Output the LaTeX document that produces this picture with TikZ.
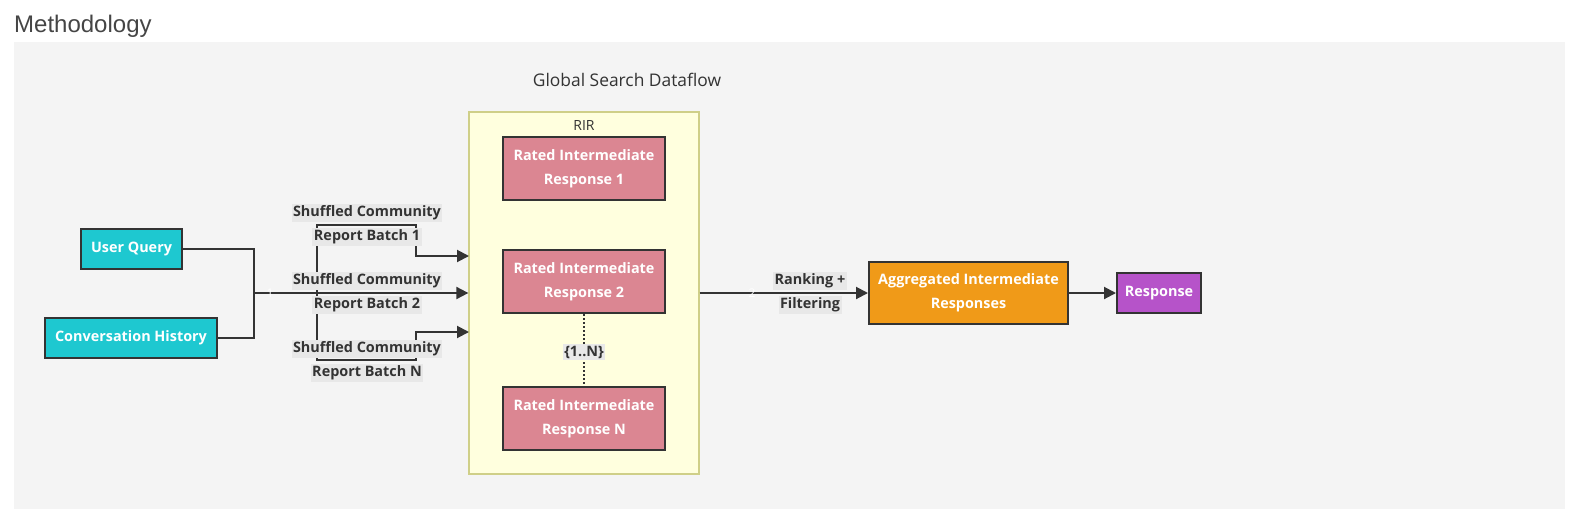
\documentclass[tikz,border=0pt]{standalone}
\usepackage{fontspec}
\setmainfont{Open Sans}
\newfontfamily\titlefont{Liberation Sans}
\usetikzlibrary{arrows.meta}
\definecolor{panel}{HTML}{F4F4F4}
\definecolor{teal}{HTML}{1EC8D0}
\definecolor{rose}{HTML}{DB8692}
\definecolor{orng}{HTML}{F09A18}
\definecolor{purp}{HTML}{B653C9}
\definecolor{bord}{HTML}{333333}
\definecolor{clfill}{HTML}{FFFFDE}
\definecolor{cldraw}{HTML}{CFCF88}
\definecolor{lblbg}{HTML}{E8E8E8}
\definecolor{txt}{HTML}{333333}
\tikzset{
  box/.style={draw=bord, line width=2pt, text=white, align=center, inner sep=0pt,
    font=\fontsize{14.4}{24}\selectfont\bfseries},
  conn/.style={draw=bord, line width=2pt},
  arr/.style={conn, -{Triangle[length=12pt,width=12pt]}},
  lbl/.style={fill=lblbg, text=txt, inner sep=1.5pt, font=\fontsize{14.4}{16}\selectfont\bfseries},
  num/.style={text=white, font=\fontsize{12}{14}\selectfont, inner sep=0pt}
}
\begin{document}
\begin{tikzpicture}[x=1pt,y=-1pt]
\useasboundingbox (0,0) rectangle (1569,517);
\fill[white] (0,0) rectangle (1569,517);
\fill[panel] (14,42) rectangle (1565,509);
\node[anchor=base west, inner sep=0pt, text=black!73, font=\titlefont\fontsize{24}{26}\selectfont] (title) at (14,32) {Methodology};
\node[anchor=base, inner sep=0pt, text=txt, font=\fontsize{17.4}{20}\selectfont] (gsd) at (627,86) {Global Search Dataflow};

% cluster
\node[draw=cldraw, fill=clfill, line width=1.3pt, minimum width=230, minimum height=362, inner sep=0pt] (rir) at (584,293) {};
\node[anchor=base, inner sep=0pt, text=txt, font=\fontsize{14}{16}\selectfont] (rirl) at (584,130) {RIR};

% nodes
\node[box, fill=teal, minimum width=101, minimum height=40] (uq) at (131.5,249) {User Query};
\node[box, fill=teal, minimum width=172, minimum height=40] (ch) at (131,338) {Conversation History};
\node[box, fill=rose, minimum width=162, minimum height=63] (r1) at (584,168.5) {Rated Intermediate\\Response 1};
\node[box, fill=rose, minimum width=162, minimum height=63] (r2) at (584,281.5) {Rated Intermediate\\Response 2};
\node[box, fill=rose, minimum width=162, minimum height=63] (rN) at (584,418.5) {Rated Intermediate\\Response N};
\node[box, fill=orng, minimum width=199, minimum height=62] (agg) at (968.5,293) {Aggregated Intermediate\\Responses};
\node[box, fill=purp, minimum width=84, minimum height=40] (resp) at (1159,293) {Response};

% coordinates
\coordinate (J) at (254,293);
\coordinate (e1) at (469,256);
\coordinate (eN) at (469,332);

% connectors
\draw[conn] (uq.east) -| (J);
\draw[conn] (ch.east) -| (J);
\draw[arr] (J) -| (317,225) -| (416,256) -- (e1);
\draw[arr] (J) -- (rir.west);
\draw[arr] (J) -| (317,360) -| (416,332) -- (eN);
\draw[arr] (rir.east) -- (agg.west);
\draw[arr] (agg.east) -- (resp.west);
\draw[draw=bord, line width=2pt, dotted] (r2.south) -- (rN.north);

% labels
\node[lbl] (b1a) at (367,213) {Shuffled Community};
\node[lbl] (b1b) at (367,237) {Report Batch 1};
\node[lbl] (b2a) at (367,281) {Shuffled Community};
\node[lbl] (b2b) at (367,305) {Report Batch 2};
\node[lbl] (bNa) at (367,349) {Shuffled Community};
\node[lbl] (bNb) at (367,373) {Report Batch N};
\node[lbl] (rfa) at (810,281) {Ranking +};
\node[lbl] (rfb) at (810,305) {Filtering};
\node[lbl] (dots) at (584,352) {\{1..N\}};
\node[num] (n1) at (270,293) {1};
\node[num] (n2) at (752,293) {2};
\end{tikzpicture}
\end{document}
